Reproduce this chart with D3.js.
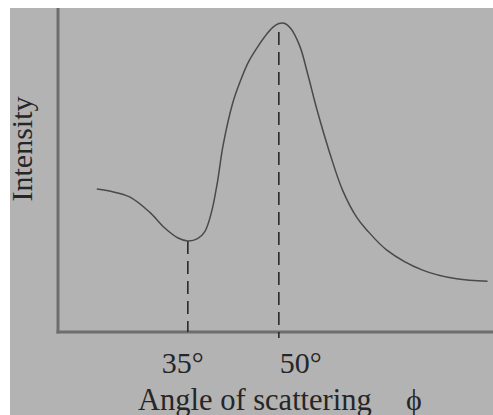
<!DOCTYPE html>
<html>
<head>
<meta charset="utf-8">
<script src="https://cdn.jsdelivr.net/npm/d3@7"></script>
<style>
  html, body { margin: 0; padding: 0; background: #ffffff; }
  svg { display: block; }
</style>
</head>
<body>
<script>
// ---- data (angle in degrees, intensity in arbitrary units 0-100) ----
const angles = [20.0, 22.1, 25.4, 28.7, 31.2, 33.4, 35.0, 36.6, 37.8, 38.9, 39.9, 40.8, 42.4, 43.6, 44.9, 46.4, 47.7, 49.0, 50.0, 50.9, 52.0, 53.5, 54.8, 56.3, 58.4, 60.5, 62.9, 64.5, 67.8, 73.7, 79.3, 84.4];
const intensity = [44.1, 43.5, 41.7, 37.0, 32.1, 29.0, 28.1, 28.8, 31.0, 37.0, 46.5, 57.5, 70.7, 77.2, 83.0, 87.7, 91.2, 94.0, 95.2, 95.3, 93.6, 88.0, 79.3, 68.5, 55.2, 43.8, 35.2, 31.5, 25.3, 19.1, 16.4, 15.7];
const markAngles = [35, 50];
const markTops = [28.1, 92.6];
const tickLabels = ["35°", "50°"];
const xLabel = "Angle of scattering";
const xSymbol = "ϕ";
const yLabel = "Intensity";

const W = 493, H = 415;
const margin = { top: 8, left: 58, bottom: 83, right: 0 };

const svg = d3.select("body").append("svg").attr("width", W).attr("height", H);
svg.append("rect").attr("x", 10).attr("y", 8).attr("width", W - 10).attr("height", H - 8).attr("fill", "#b3b3b3");

const x = d3.scaleLinear().domain([13.6, 85.3]).range([margin.left, W - margin.right]);
const y = d3.scaleLinear().domain([0, 100]).range([H - margin.bottom, margin.top]);

// axes (plain lines)
svg.append("line").attr("x1", x(13.6)).attr("x2", x(13.6)).attr("y1", y(100)).attr("y2", y(0) + 1.5)
  .attr("stroke", "#6e6e6e").attr("stroke-width", 3);
svg.append("line").attr("x1", x(13.6) - 1.5).attr("x2", W).attr("y1", y(0)).attr("y2", y(0))
  .attr("stroke", "#6e6e6e").attr("stroke-width", 3);

// dashed guide lines
markAngles.forEach((a, i) => {
  svg.append("line")
    .attr("x1", x(a)).attr("x2", x(a))
    .attr("y1", y(markTops[i])).attr("y2", y(0) + (i === 1 ? 6 : 0))
    .attr("stroke", "#2a2a2a").attr("stroke-width", 1.6)
    .attr("stroke-dasharray", "13,7");
});

// curve
const pts = angles.map((a, i) => [a, intensity[i]]);
const line = d3.line().x(d => x(d[0])).y(d => y(d[1])).curve(d3.curveCatmullRom.alpha(0.5));
svg.append("path").attr("d", line(pts)).attr("fill", "none")
  .attr("stroke", "#4a4a4a").attr("stroke-width", 1.5);

// tick labels
const font = "'Liberation Serif', 'Times New Roman', serif";
tickLabels.forEach((t, i) => {
  svg.append("text")
    .attr("x", x(markAngles[i]) + (i === 0 ? -26 : 1))
    .attr("y", y(0) + 41)
    .attr("font-family", font).attr("font-size", 30).attr("fill", "#262626")
    .text(t);
});

// x label
svg.append("text").attr("x", 138).attr("y", 410)
  .attr("font-family", font).attr("font-size", 30.5).attr("fill", "#262626")
  .text(xLabel);
svg.append("text").attr("x", 406).attr("y", 410)
  .attr("font-family", font).attr("font-size", 30).attr("fill", "#262626")
  .text(xSymbol);

// y label
svg.append("text")
  .attr("transform", `translate(32, ${149}) rotate(-90)`)
  .attr("text-anchor", "middle")
  .attr("font-family", font).attr("font-size", 30).attr("fill", "#262626")
  .text(yLabel);
</script>
</body>
</html>
